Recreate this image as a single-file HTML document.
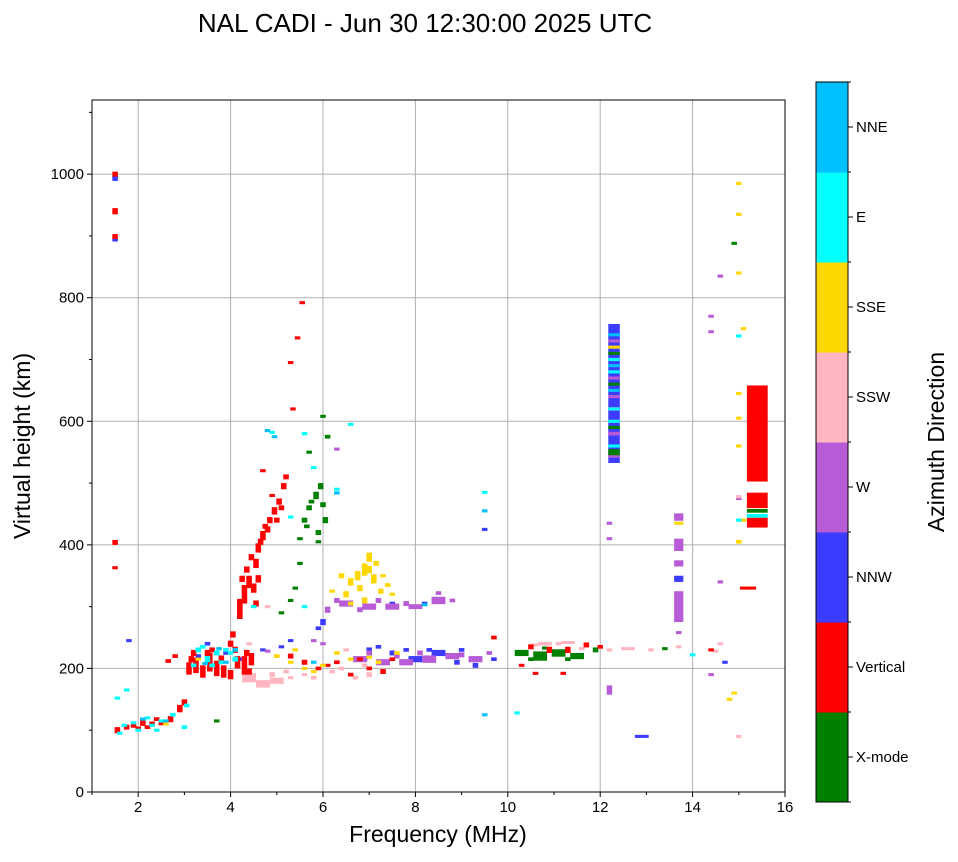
<!DOCTYPE html>
<html><head><meta charset="utf-8"><style>
body{margin:0;background:#fff;font-family:"Liberation Sans","DejaVu Sans",sans-serif}
svg text{font-family:"Liberation Sans","DejaVu Sans",sans-serif}
</style></head><body>
<svg id="chart" width="958" height="857" xmlns="http://www.w3.org/2000/svg">
<text x="425" y="32" font-size="26" text-anchor="middle">NAL CADI - Jun 30 12:30:00 2025 UTC</text>
<g id="grid"></g>
<g id="marks"></g>
<rect x="92" y="100" width="693" height="692" fill="none" stroke="#000" stroke-width="1"/>
<g id="axes"></g>
<text x="438" y="842" font-size="23" text-anchor="middle">Frequency (MHz)</text>
<text transform="translate(30,446) rotate(-90)" font-size="23" text-anchor="middle">Virtual height (km)</text>
<g id="cbar"></g>
<text transform="translate(944,442) rotate(-90)" font-size="23" text-anchor="middle">Azimuth Direction</text>
</svg>
<script>
const dirNames=["X-mode","Vertical","NNW","W","SSW","SSE","E","NNE"];
const dirColors=["#008000","#ff0000","#3c3cff","#b85bd6","#ffb6c1","#ffd700","#00ffff","#00bfff"];
const xTicks=[2,4,6,8,10,12,14,16];
const yTicks=[0,200,400,600,800,1000];
// each series: [freq MHz, height km, height span km, optional width MHz]
const xmode=[[3.7,115,3],[5.1,290,4],[5.3,310,3],[5.4,330,3],[5.5,410,5],[5.6,440,8],[5.7,460,8],[5.85,480,12],[5.95,495,10],[6.05,440,10],[5.9,420,8],[6.1,575,6],[6.0,608,3],[5.9,405,5],[5.5,370,3],[5.7,550,3],[10.3,225,10,0.3],[10.7,220,15,0.3],[11.1,225,12,0.3],[11.5,220,10,0.3],[11.9,230,8],[10.8,233,5],[14.9,888,3],[15.4,455,6,0.45],[12.3,550,10,0.25],[13.4,232,3],[5.75,470,6],[6.0,465,8],[5.65,430,6],[10.5,215,6],[11.3,215,6],[12.3,590,4,0.25],[12.3,660,4,0.25],[12.3,710,4,0.25]];
const vertical=[[1.5,1000,8],[1.5,940,10],[1.5,899,8],[1.5,404,8],[1.5,363,3],[1.55,100,10],[1.75,105,8],[1.9,108,8],[2.1,112,10],[2.3,110,8],[2.5,112,8],[2.7,118,10],[2.9,135,12],[3.0,145,10],[2.65,212,6],[2.8,220,6],[3.1,200,20],[3.25,205,25],[3.4,195,20],[3.55,210,30],[3.7,200,25],[3.85,195,20],[4.0,190,15],[4.15,210,20],[4.3,205,30],[4.45,215,20],[3.2,225,10],[3.6,230,8],[4.0,240,10],[4.05,255,10],[4.2,300,25],[4.3,320,30],[4.4,340,20],[4.25,345,10],[4.5,330,15],[4.55,305,10],[4.55,370,15],[4.6,395,15],[4.7,415,15],[4.8,425,10],[4.85,440,10],[4.95,455,12],[5.05,470,10],[5.15,495,10],[5.2,510,8],[5.35,620,4],[5.45,735,3],[5.55,792,5],[5.3,695,3],[4.7,520,5],[4.9,480,5],[5.3,220,8],[5.6,210,8],[5.9,200,6],[6.3,210,6],[6.6,190,6],[7.0,200,6],[7.3,195,8],[10.3,205,5],[10.5,235,8],[10.9,230,10],[11.3,230,10],[11.7,238,8],[12.0,235,6],[9.7,250,6],[10.6,192,4],[11.2,192,4],[15.2,330,3,0.35],[15.4,436,16,0.45],[15.4,472,25,0.45],[15.4,575,145,0.45],[15.4,652,12,0.45],[14.4,230,4],[3.15,215,10],[3.5,225,10],[3.8,215,12],[4.1,230,10],[4.35,225,10],[4.4,195,10],[2.2,105,6],[2.4,118,6],[2.0,103,6],[4.35,360,10],[4.45,380,10],[4.65,405,10],[4.75,430,8],[5.0,440,8],[5.1,460,8],[4.6,345,12],[4.2,285,10],[6.8,215,6],[7.5,215,6],[6.1,205,5]];
const nnw=[[1.5,993,8],[1.5,894,6],[1.8,245,3],[12.3,645,225,0.25],[12.9,90,3,0.3],[14.7,210,3],[9.5,425,3],[6.0,275,10],[5.9,265,6],[8.2,305,6],[3.5,240,6],[4.7,230,5],[7.0,230,8],[7.5,225,8],[8.0,215,10,0.3],[8.5,225,10,0.3],[8.9,210,8],[9.3,205,8],[7.5,305,6],[13.7,345,10,0.2],[3.3,220,6],[3.9,225,6],[4.2,215,6],[6.9,215,6],[7.2,235,6],[7.8,230,6],[8.3,230,6],[9.0,230,6],[9.7,215,6],[5.3,245,4],[5.1,235,4]];
const west=[[6.1,295,10],[6.5,305,10,0.3],[7.0,300,10,0.3],[7.5,300,10,0.3],[8.0,300,8,0.3],[8.5,310,12,0.3],[8.5,322,6],[6.3,555,3],[5.8,245,5],[6.0,240,5],[6.8,215,10,0.3],[7.3,210,10,0.3],[7.8,210,10,0.3],[8.3,215,12,0.3],[8.8,220,10,0.3],[9.3,215,10,0.3],[9.6,225,6],[12.2,435,3],[12.2,410,3],[12.2,165,15],[12.3,580,6,0.25],[12.3,620,6,0.25],[12.3,700,5,0.25],[12.3,545,8,0.25],[13.7,300,50,0.2],[13.7,400,20,0.2],[13.7,445,12,0.2],[13.7,370,10,0.2],[13.7,258,3],[14.4,770,3],[14.4,745,3],[14.4,190,3],[14.6,835,3],[14.6,340,3],[15.0,475,3],[4.8,228,4],[6.3,310,8],[6.8,295,8],[7.2,310,8],[7.8,305,8],[8.8,310,6],[7.0,225,8],[7.6,220,8],[8.1,225,8],[9.0,222,8],[12.3,640,5,0.25],[12.3,670,5,0.25],[12.3,730,5,0.25],[12.3,600,4,0.25]];
const ssw=[[4.4,185,15,0.3],[4.7,175,12,0.3],[5.0,180,10,0.3],[5.3,185,5],[5.6,190,5],[5.8,185,6],[6.2,195,6],[6.7,185,6],[7.0,190,8],[6.5,230,4],[10.8,240,6,0.3],[11.3,242,5,0.3],[12.6,232,4,0.3],[13.1,230,4],[13.7,235,5],[14.6,240,3],[14.5,228,3],[15.0,90,3],[15.0,478,3],[12.2,230,5],[4.4,240,4],[4.8,300,3],[4.9,190,8],[5.2,195,6],[6.4,200,6],[6.9,205,6],[10.6,238,5],[11.1,240,5],[11.6,232,5]];
const sse=[[6.5,320,10],[6.6,340,12],[6.75,350,15],[6.9,360,20],[7.0,380,15],[7.1,345,15],[7.25,325,8],[6.9,310,10],[7.3,350,5],[7.5,320,5],[5.0,220,6],[5.3,210,5],[5.6,200,5],[6.0,205,5],[6.3,225,6],[7.2,210,6],[7.6,225,6],[3.3,215,5],[2.6,110,4],[14.8,150,5],[14.9,160,3],[15.0,405,6],[15.1,440,4],[15.0,985,3],[15.0,935,3],[15.0,840,3],[15.1,750,3],[15.0,645,3],[15.0,605,3],[15.0,560,3],[13.7,435,3,0.2],[12.3,720,5,0.25],[6.4,350,8],[6.8,330,10],[7.0,360,12],[7.15,370,8],[6.6,305,6],[7.4,335,6],[6.2,325,4],[5.4,230,4],[5.8,195,4],[6.6,215,5],[7.0,218,5]];
const east=[[1.6,95,5],[1.75,165,4],[1.55,152,4],[2.0,100,5],[2.2,120,5],[2.4,100,5],[2.75,125,6],[3.0,105,6],[3.05,140,6],[3.3,230,8],[3.5,215,10],[3.7,225,8],[3.9,230,6],[4.1,215,8],[3.6,205,6],[4.9,582,5],[5.3,445,3],[5.6,580,4],[5.8,525,3],[6.3,490,4],[6.6,595,5],[9.5,485,3],[10.2,128,3],[12.3,600,5,0.25],[12.3,680,5,0.25],[14.0,222,3],[15.0,440,3],[15.4,447,6,0.45],[15.0,738,3],[5.6,300,3],[4.5,300,3],[1.7,108,5],[1.9,112,5],[2.3,108,5],[2.5,115,5],[3.4,235,6],[3.8,210,6],[4.0,225,6],[3.2,205,6],[12.3,560,4,0.25],[12.3,700,4,0.25],[12.3,620,3,0.25]];
const nne=[[4.8,585,5],[4.95,575,4],[6.3,484,4],[9.5,455,3],[9.5,125,3],[12.3,740,5,0.25],[12.3,650,5,0.25],[4.1,230,6],[3.9,210,5],[5.8,210,4],[8.2,303,5],[3.45,208,5],[3.75,232,5],[2.1,118,4],[2.6,115,4],[12.3,690,4,0.25]];
const seriesList=[xmode,vertical,nnw,west,ssw,sse,east,nne];
const seriesOrder=[2,3,0,4,1,5,6,7];

const NS="http://www.w3.org/2000/svg";
const X0=92,X1=785,Y0=792,Y1=100,XMIN=1,XMAX=16,YMIN=0,YMAX=1120;
const sx=f=>X0+(f-XMIN)/(XMAX-XMIN)*(X1-X0);
const sy=h=>Y0-(h-YMIN)/(YMAX-YMIN)*(Y0-Y1);
function mk(tag,attrs,parent){const e=document.createElementNS(NS,tag);for(const k in attrs)e.setAttribute(k,attrs[k]);parent.appendChild(e);return e;}
const grid=document.getElementById('grid'),axes=document.getElementById('axes'),marks=document.getElementById('marks');
xTicks.forEach(t=>{
 const x=sx(t);
 if(t<XMAX){const g=mk('line',{x1:x,x2:x,y1:Y1,y2:Y0,stroke:'#b0b0b0','stroke-width':1},grid);
 
 }
 const tk=mk('line',{x1:x,x2:x,y1:Y0,y2:Y0+5,stroke:'#000'},axes);
 
 
 const tl=mk('text',{x:x,y:Y0+20,'font-size':15,'text-anchor':'middle'},axes);tl.textContent=t;
 
 
});
for(let t=XMIN;t<XMAX;t+=2){const x=sx(t);mk('line',{x1:x,x2:x,y1:Y0,y2:Y0+3,stroke:'#000'},axes);}
for(let t=100;t<YMAX;t+=200){const y=sy(t);mk('line',{x1:X0-3,x2:X0,y1:y,y2:y,stroke:'#000'},axes);}
yTicks.forEach(t=>{
 const y=sy(t);
 if(t>YMIN){const g=mk('line',{x1:X0,x2:X1,y1:y,y2:y,stroke:'#b0b0b0','stroke-width':1},grid);
 
 }
 const tk=mk('line',{x1:X0-5,x2:X0,y1:y,y2:y,stroke:'#000'},axes);
 
 
 const tl=mk('text',{x:X0-8,y:y+5,'font-size':15,'text-anchor':'end'},axes);tl.textContent=t;
 
 
});
seriesOrder.forEach(si=>{
 seriesList[si].forEach(p=>{
  const w=p[3]||0.12, span=Math.max(p[2],5);
  const x=sx(p[0]-w/2), x2=sx(p[0]+w/2);
  const yTop=sy(p[1]+span/2), yBot=sy(p[1]-span/2);
  const r=mk('rect',{x:x,y:yTop,width:Math.max(x2-x,2),height:Math.max(yBot-yTop,2),fill:dirColors[si]},marks);
  
  
 });
});
const cb=document.getElementById('cbar');
const CBX=816,CBW=32,CBT=82,CBB=802,bh=(CBB-CBT)/dirNames.length;
dirNames.forEach((n,i)=>{
 const y=CBB-(i+1)*bh;
 const r=mk('rect',{x:CBX,y:y,width:CBW,height:bh+0.5,fill:dirColors[i]},cb);
 
 
 const yc=y+bh/2;
 mk('line',{x1:CBX+CBW,x2:CBX+CBW+5,y1:yc,y2:yc,stroke:'#000'},cb);
 const t=mk('text',{x:CBX+CBW+8,y:yc+5,'font-size':15},cb);t.textContent=n;
 
 
});
for(let i=0;i<=dirNames.length;i++){const y=CBB-i*bh;mk('line',{x1:CBX+CBW,x2:CBX+CBW+3,y1:y,y2:y,stroke:'#000'},cb);}
mk('rect',{x:CBX,y:CBT,width:CBW,height:CBB-CBT,fill:'none',stroke:'#000'},cb);
</script>
</body></html>
